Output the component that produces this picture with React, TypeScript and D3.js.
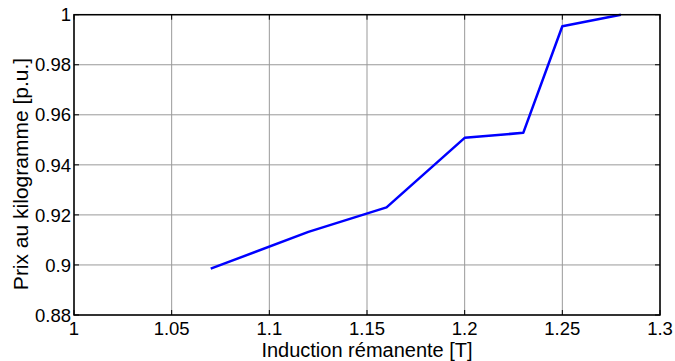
import React from "react";
import * as d3 from "d3";

const induction = [1.07, 1.12, 1.16, 1.2, 1.23, 1.25, 1.28];
const prix = [0.8985, 0.9132, 0.923, 0.9508, 0.9528, 0.9954, 1.0];
const xTicks = [1, 1.05, 1.1, 1.15, 1.2, 1.25, 1.3];
const yTicks = [0.88, 0.9, 0.92, 0.94, 0.96, 0.98, 1];

export default function App() {
  const W = 675, H = 361;
  const left = 74, right = 660, top = 14.7, bottom = 315;
  const x = d3.scaleLinear().domain([1, 1.3]).range([left, right]);
  const y = d3.scaleLinear().domain([0.88, 1]).range([bottom, top]);
  const line = d3.line<number>().x((_, i) => x(induction[i])).y((d) => y(d));
  const fmt = (v: number) => String(+v.toFixed(2));
  const font = "Liberation Sans, Arial, sans-serif";
  const tl = 5;
  return (
    <svg width={W} height={H} style={{ position: "absolute", left: 0, top: 0 }}>
      <rect x={0} y={0} width={W} height={H} fill="#fff" />
      {xTicks.map((t) => (
        <line key={"gx" + t} x1={x(t)} x2={x(t)} y1={top} y2={bottom} stroke="#999" strokeWidth={1} />
      ))}
      {yTicks.map((t) => (
        <line key={"gy" + t} x1={left} x2={right} y1={y(t)} y2={y(t)} stroke="#999" strokeWidth={1} />
      ))}
      {xTicks.map((t) => (
        <g key={"tx" + t}>
          <line x1={x(t)} x2={x(t)} y1={bottom} y2={bottom - tl} stroke="#000" strokeWidth={1} />
          <line x1={x(t)} x2={x(t)} y1={top} y2={top + tl} stroke="#000" strokeWidth={1} />
          <text x={x(t)} y={335} textAnchor="middle" fontFamily={font} fontSize={18.5} fill="#000">
            {fmt(t)}
          </text>
        </g>
      ))}
      {yTicks.map((t) => (
        <g key={"ty" + t}>
          <line x1={left} x2={left + tl} y1={y(t)} y2={y(t)} stroke="#000" strokeWidth={1} />
          <line x1={right} x2={right - tl} y1={y(t)} y2={y(t)} stroke="#000" strokeWidth={1} />
          <text x={71} y={y(t)} dy="0.36em" textAnchor="end" fontFamily={font} fontSize={18.5} fill="#000">
            {fmt(t)}
          </text>
        </g>
      ))}
      <path d={line(prix) || ""} fill="none" stroke="#0000ff" strokeWidth={2.5} strokeLinejoin="round" />
      <rect x={left} y={top} width={right - left} height={bottom - top} fill="none" stroke="#000" strokeWidth={1.5} />
      <text x={367} y={356.5} textAnchor="middle" fontFamily={font} fontSize={20} fill="#000">
        Induction rémanente [T]
      </text>
      <text
        transform={`translate(28,174) rotate(-90)`}
        textAnchor="middle"
        fontFamily={font}
        fontSize={21}
        fill="#000"
      >
        Prix au kilogramme [p.u.]
      </text>
    </svg>
  );
}
